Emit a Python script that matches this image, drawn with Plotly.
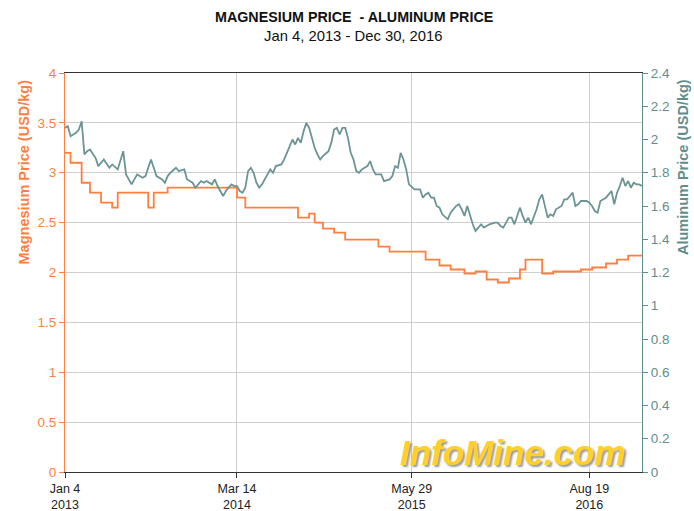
import pandas as pd
import plotly.graph_objects as go

START = "2013-01-04"
END = "2016-12-30"

# Magnesium price (USD/kg): week offsets (from Jan 4, 2013) where the price changes, and the new price
mg_week = [0, 2, 6, 9, 13, 17, 19, 30, 32, 37,
           62, 65, 84, 88, 90, 93, 97, 101, 113, 117,
           130, 135, 139, 144, 148, 152, 156, 160, 164, 166,
           172, 176, 186, 190, 195, 199, 203, 208]
mg_price = [3.20, 3.10, 2.90, 2.80, 2.70, 2.65, 2.80, 2.65, 2.80, 2.85,
            2.75, 2.65, 2.55, 2.59, 2.50, 2.44, 2.40, 2.33, 2.26, 2.21,
            2.13, 2.07, 2.03, 1.99, 2.01, 1.93, 1.90, 1.94, 2.03, 2.13,
            1.99, 2.01, 2.03, 2.05, 2.09, 2.13, 2.17, 2.17]

# Aluminum price (USD/kg): week offsets and prices
al_week = [0, 1, 2, 4, 5, 6, 7, 8, 9, 11,
           12, 14, 16, 17, 19, 21, 22, 24, 25, 26,
           28, 29, 31, 33, 35, 36, 37, 38, 40, 41,
           43, 44, 46, 47, 49, 50, 51, 52, 53, 54,
           55, 57, 58, 60, 61, 62, 63, 64, 65, 66,
           67, 68, 69, 70, 71, 73, 74, 75, 76, 78,
           79, 80, 81, 82, 83, 84, 85, 86, 87, 88,
           89, 90, 91, 92, 93, 95, 96, 97, 98, 99,
           100, 101, 102, 103, 104, 105, 106, 107, 109, 110,
           111, 112, 114, 115, 117, 118, 119, 120, 121, 122,
           123, 124, 126, 127, 128, 129, 130, 131, 132, 133,
           134, 135, 136, 138, 139, 141, 142, 143, 144, 145,
           146, 147, 148, 150, 151, 152, 153, 155, 156, 157,
           158, 159, 160, 161, 162, 163, 164, 165, 166, 167,
           168, 170, 171, 172, 173, 174, 175, 176, 177, 178,
           179, 180, 181, 182, 183, 184, 185, 186, 188, 189,
           190, 191, 192, 193, 195, 196, 197, 198, 199, 200,
           201, 202, 203, 204, 205, 206, 207, 208]
al_price = [2.07, 2.08, 2.02, 2.04, 2.06, 2.11, 1.91, 1.93, 1.94, 1.89,
            1.84, 1.88, 1.83, 1.85, 1.82, 1.93, 1.79, 1.73, 1.76, 1.79,
            1.77, 1.78, 1.88, 1.78, 1.76, 1.74, 1.78, 1.80, 1.83, 1.81,
            1.82, 1.76, 1.74, 1.71, 1.75, 1.74, 1.75, 1.74, 1.73, 1.76,
            1.72, 1.66, 1.69, 1.73, 1.72, 1.72, 1.69, 1.68, 1.71, 1.81,
            1.83, 1.80, 1.74, 1.71, 1.73, 1.79, 1.82, 1.80, 1.84, 1.85,
            1.88, 1.92, 1.96, 2.00, 1.97, 2.01, 1.98, 2.05, 2.10, 2.07,
            2.01, 1.95, 1.91, 1.88, 1.90, 1.93, 1.98, 2.06, 2.07, 2.03,
            2.07, 2.07, 2.01, 1.92, 1.88, 1.81, 1.80, 1.82, 1.84, 1.87,
            1.82, 1.79, 1.79, 1.75, 1.76, 1.78, 1.84, 1.83, 1.92, 1.88,
            1.82, 1.73, 1.70, 1.70, 1.70, 1.65, 1.67, 1.68, 1.65, 1.65,
            1.60, 1.59, 1.55, 1.52, 1.56, 1.60, 1.61, 1.58, 1.54, 1.60,
            1.54, 1.49, 1.45, 1.49, 1.47, 1.48, 1.49, 1.50, 1.50, 1.48,
            1.47, 1.50, 1.53, 1.53, 1.49, 1.54, 1.59, 1.54, 1.50, 1.53,
            1.49, 1.58, 1.64, 1.67, 1.60, 1.53, 1.55, 1.54, 1.58, 1.59,
            1.60, 1.64, 1.64, 1.66, 1.68, 1.60, 1.61, 1.63, 1.63, 1.62,
            1.60, 1.57, 1.56, 1.63, 1.65, 1.67, 1.69, 1.61, 1.68, 1.72,
            1.77, 1.72, 1.75, 1.71, 1.74, 1.73, 1.73, 1.72]

tick_dates = ["2013-01-04", "2014-03-14", "2015-05-29", "2016-08-19"]
tick_text = ["Jan 4<br>2013", "Mar 14<br>2014", "May 29<br>2015", "Aug 19<br>2016"]

assert len(al_week) == len(al_price)
assert len(mg_week) == len(mg_price)

t0 = pd.Timestamp(START)
mg_dates = [t0 + pd.Timedelta(weeks=w) for w in mg_week]
al_dates = [t0 + pd.Timedelta(weeks=w) for w in al_week]

ORANGE = "#ff7f3f"
TEAL = "#6b9494"
TEAL_AX = "#5f8e8e"
FONT = "Liberation Sans, Arial, sans-serif"

fig = go.Figure()
fig.add_trace(go.Scatter(x=mg_dates, y=mg_price, mode="lines", line=dict(color=ORANGE, width=1.8, shape="hv"),
                         name="Magnesium", yaxis="y"))
fig.add_trace(go.Scatter(x=al_dates, y=al_price, mode="lines", line=dict(color=TEAL, width=1.8),
                         name="Aluminum", yaxis="y2"))

fig.update_layout(
    width=694, height=511,
    margin=dict(l=65, r=52, t=73, b=39, autoexpand=False),
    paper_bgcolor="white", plot_bgcolor="white",
    showlegend=False,
    font=dict(family=FONT, size=12, color="#222"),
    xaxis=dict(type="date", range=[START, END], tickvals=tick_dates, ticktext=tick_text,
               showgrid=True, gridcolor="#cfcfcf", gridwidth=1, automargin=False,
               showline=True, linecolor="#333", linewidth=1, mirror=True,
               ticks="outside", ticklen=5, tickcolor="#333",
               tickfont=dict(family=FONT, size=12.5, color="#222"), zeroline=False),
    yaxis=dict(range=[0, 4], dtick=0.5, showgrid=True, gridcolor="#cfcfcf", gridwidth=1, automargin=False,
               showline=True, linecolor=ORANGE, linewidth=1, ticks="outside", ticklen=5,
               tickcolor=ORANGE, tickfont=dict(family=FONT, size=13.5, color=ORANGE), zeroline=False),
    yaxis2=dict(range=[0, 2.4], dtick=0.2, overlaying="y", side="right", showgrid=False, automargin=False,
                showline=True, linecolor=TEAL_AX, linewidth=1, ticks="outside", ticklen=5,
                tickcolor=TEAL_AX, tickfont=dict(family=FONT, size=13.5, color=TEAL_AX), zeroline=False),
)

annos = [
    dict(text="<b>MAGNESIUM PRICE  - ALUMINUM PRICE</b>", x=0.5, y=1.14,
         xanchor="center", yanchor="middle", font=dict(size=14.3, color="#111")),
    dict(text="Jan 4, 2013 - Dec 30, 2016", x=0.5, y=1.093,
         xanchor="center", yanchor="middle", font=dict(size=14.8, color="#111")),
    dict(text="<b>Magnesium Price (USD/kg)</b>", x=-0.0867, y=0.99, textangle=-90,
         xanchor="left", yanchor="top", font=dict(size=14.5, color=ORANGE)),
    dict(text="<b>Aluminum Price (USD/kg)</b>", x=1.0884, y=0.99, textangle=-90,
         xanchor="right", yanchor="top", font=dict(size=14.5, color=TEAL_AX)),
    dict(text="<b><i>InfoMine.com</i></b>", x=0.776, y=0.05,
         xanchor="center", yanchor="middle",
         font=dict(size=35, color="#ffd02a", shadow="2px 2px 2px #999")),
]
for a in annos:
    f = a.pop("font")
    f.setdefault("family", FONT)
    fig.add_annotation(xref="paper", yref="paper", showarrow=False, font=f, **a)

fig.write_html(
    "out.html",
    config={"responsive": False, "displayModeBar": False},
    post_script="document.body.style.margin='0px';document.body.style.overflow='hidden';",
)
